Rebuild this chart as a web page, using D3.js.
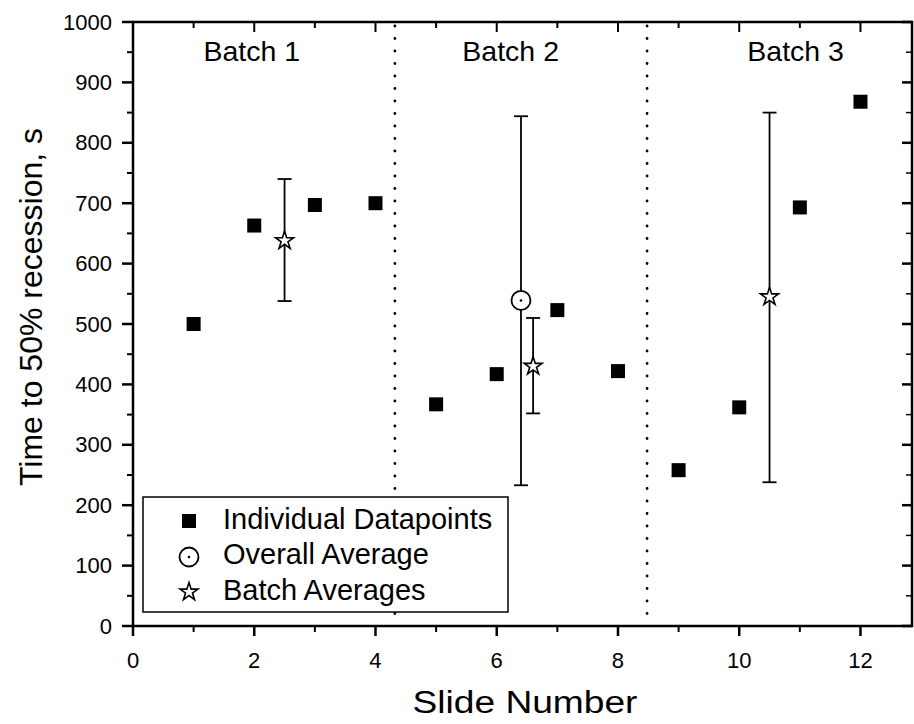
<!DOCTYPE html>
<meta charset="utf-8">
<style>
body { margin: 0; background: #fff; }
text { font-family: "Liberation Sans", Arial, sans-serif; fill: #000; }
</style>
<body>
<div id="chart"></div>
<script src="https://cdn.jsdelivr.net/npm/d3@7"></script>
<script>
// Data
var slides = [1, 2, 3, 4, 5, 6, 7, 8, 9, 10, 11, 12];
var times = [500, 663, 697, 700, 367, 417, 523, 422, 258, 362, 693, 868];

var batchX = [2.5, 6.6, 10.5];
var batchMean = [638, 430, 545];
var batchLow = [538, 352, 238];
var batchHigh = [740, 510, 850];

var overallX = [6.4];
var overallMean = [539];
var overallLow = [233];
var overallHigh = [844];

var batchNames = ["Batch 1", "Batch 2", "Batch 3"];
var batchNameX = [1.96, 6.23, 10.93];
var dividers = [4.32, 8.48];

var xTicks = [0, 2, 4, 6, 8, 10, 12];
var yTicks = [0, 100, 200, 300, 400, 500, 600, 700, 800, 900, 1000];

var legendNames = ["Individual Datapoints", "Overall Average", "Batch Averages"];

var width = 914, height = 724;
var margin = {left: 133, right: 2, top: 22, bottom: 98};

var svg = d3.select("#chart").append("svg")
    .attr("width", width).attr("height", height);

var x = d3.scaleLinear().domain([0, 12.85]).range([margin.left, width - margin.right]);
var y = d3.scaleLinear().domain([0, 1000]).range([height - margin.bottom, margin.top]);

var x0 = x.range()[0], x1 = x.range()[1], y0 = y.range()[0], y1 = y.range()[1];

// frame
svg.append("rect")
    .attr("x", x0).attr("y", y1)
    .attr("width", x1 - x0).attr("height", y0 - y1)
    .attr("fill", "none").attr("stroke", "#000").attr("stroke-width", 2.5);

var minorX = d3.range(1, 13, 2);
var minorY = d3.range(50, 1000, 100);

// bottom axis
var xAxis = svg.append("g").attr("transform", "translate(0," + y0 + ")");
xAxis.selectAll("line.maj").data(xTicks).enter().append("line")
    .attr("x1", d => x(d)).attr("x2", d => x(d)).attr("y1", 0).attr("y2", 10)
    .attr("stroke", "#000").attr("stroke-width", 2.5);
xAxis.selectAll("line.min").data(minorX).enter().append("line")
    .attr("x1", d => x(d)).attr("x2", d => x(d)).attr("y1", 0).attr("y2", 6)
    .attr("stroke", "#000").attr("stroke-width", 2);
xAxis.selectAll("text").data(xTicks).enter().append("text")
    .attr("x", d => x(d)).attr("y", 42)
    .attr("text-anchor", "middle").attr("font-size", 22)
    .text(d => d);

// top axis (inward ticks)
var topAxis = svg.append("g").attr("transform", "translate(0," + y1 + ")");
topAxis.selectAll("line.maj").data(xTicks).enter().append("line")
    .attr("x1", d => x(d)).attr("x2", d => x(d)).attr("y1", 0).attr("y2", 10)
    .attr("stroke", "#000").attr("stroke-width", 2);
topAxis.selectAll("line.min").data(minorX).enter().append("line")
    .attr("x1", d => x(d)).attr("x2", d => x(d)).attr("y1", 0).attr("y2", 6)
    .attr("stroke", "#000").attr("stroke-width", 2);

// left axis
var yAxis = svg.append("g").attr("transform", "translate(" + x0 + ",0)");
yAxis.selectAll("line.maj").data(yTicks).enter().append("line")
    .attr("y1", d => y(d)).attr("y2", d => y(d)).attr("x1", 0).attr("x2", -11)
    .attr("stroke", "#000").attr("stroke-width", 2.5);
yAxis.selectAll("line.min").data(minorY).enter().append("line")
    .attr("y1", d => y(d)).attr("y2", d => y(d)).attr("x1", 0).attr("x2", -6)
    .attr("stroke", "#000").attr("stroke-width", 2);
yAxis.selectAll("text").data(yTicks).enter().append("text")
    .attr("x", -21).attr("y", d => y(d) + 7.5)
    .attr("text-anchor", "end").attr("font-size", 22)
    .text(d => d);

// right axis (inward ticks)
var rAxis = svg.append("g").attr("transform", "translate(" + x1 + ",0)");
rAxis.selectAll("line.maj").data(yTicks).enter().append("line")
    .attr("y1", d => y(d)).attr("y2", d => y(d)).attr("x1", 0).attr("x2", -10)
    .attr("stroke", "#000").attr("stroke-width", 2.5);
rAxis.selectAll("line.min").data(minorY).enter().append("line")
    .attr("y1", d => y(d)).attr("y2", d => y(d)).attr("x1", 0).attr("x2", -6)
    .attr("stroke", "#000").attr("stroke-width", 1.5);

// axis titles
svg.append("text")
    .attr("x", 525).attr("y", 713)
    .attr("text-anchor", "middle").attr("font-size", 31)
    .attr("textLength", 225).attr("lengthAdjust", "spacingAndGlyphs")
    .text("Slide Number");
svg.append("text")
    .attr("transform", "translate(42,307) rotate(-90)")
    .attr("text-anchor", "middle").attr("font-size", 32)
    .text("Time to 50% recession, s");

// batch dividers
svg.selectAll("line.div").data(dividers).enter().append("line")
    .attr("x1", d => x(d)).attr("x2", d => x(d))
    .attr("y1", y1 + 4).attr("y2", y0 - 4)
    .attr("stroke", "#000").attr("stroke-width", 2.8)
    .attr("stroke-linecap", "round")
    .attr("stroke-dasharray", "0.1,12.4");

// batch labels
svg.selectAll("text.batch").data(batchNames).enter().append("text")
    .attr("x", (d, i) => x(batchNameX[i])).attr("y", 61)
    .attr("text-anchor", "middle").attr("font-size", 28.5)
    .text(d => d);

// error bars
function errorBars(xs, lo, hi, cap) {
  var g = svg.append("g").attr("stroke", "#000").attr("stroke-width", 1.8);
  xs.forEach(function(d, i) {
    g.append("line").attr("x1", x(d)).attr("x2", x(d))
      .attr("y1", y(lo[i])).attr("y2", y(hi[i]));
    [lo[i], hi[i]].forEach(function(v) {
      g.append("line").attr("x1", x(d) - cap).attr("x2", x(d) + cap)
        .attr("y1", y(v)).attr("y2", y(v));
    });
  });
}
errorBars(overallX, overallLow, overallHigh, 7);
errorBars(batchX, batchLow, batchHigh, 7);

// squares
svg.selectAll("rect.pt").data(slides).enter().append("rect")
    .attr("x", d => x(d) - 7).attr("y", (d, i) => y(times[i]) - 7)
    .attr("width", 14).attr("height", 14).attr("fill", "#000");

// overall average circle
svg.selectAll("circle.avg").data(overallX).enter().append("circle")
    .attr("cx", d => x(d)).attr("cy", (d, i) => y(overallMean[i]))
    .attr("r", 9.5).attr("fill", "#fff").attr("stroke", "#000").attr("stroke-width", 1.8);
svg.selectAll("circle.dot").data(overallX).enter().append("circle")
    .attr("cx", d => x(d)).attr("cy", (d, i) => y(overallMean[i]))
    .attr("r", 1.3).attr("fill", "#000");

// stars
var star = d3.symbol().type(d3.symbolStar).size(100);
svg.selectAll("path.star").data(batchX).enter().append("path")
    .attr("d", star)
    .attr("transform", (d, i) => "translate(" + x(d) + "," + y(batchMean[i]) + ")")
    .attr("fill", "#fff").attr("stroke", "#000").attr("stroke-width", 1.6);

// legend
var lg = svg.append("g");
lg.append("rect")
    .attr("x", 143).attr("y", 497).attr("width", 365).attr("height", 115)
    .attr("fill", "#fff").attr("stroke", "#000").attr("stroke-width", 1.5);
var rowY = [521, 557, 592];
lg.append("rect").attr("x", 182).attr("y", rowY[0] - 7).attr("width", 14).attr("height", 14).attr("fill", "#000");
lg.append("circle").attr("cx", 189).attr("cy", rowY[1]).attr("r", 9.5)
    .attr("fill", "#fff").attr("stroke", "#000").attr("stroke-width", 1.8);
lg.append("circle").attr("cx", 189).attr("cy", rowY[1]).attr("r", 1.3).attr("fill", "#000");
lg.append("path").attr("d", star).attr("transform", "translate(189," + rowY[2] + ")")
    .attr("fill", "#fff").attr("stroke", "#000").attr("stroke-width", 1.6);
lg.selectAll("text").data(legendNames).enter().append("text")
    .attr("x", 223).attr("y", (d, i) => [529, 564, 600][i])
    .attr("font-size", 29)
    .text(d => d);
</script>
</body>
